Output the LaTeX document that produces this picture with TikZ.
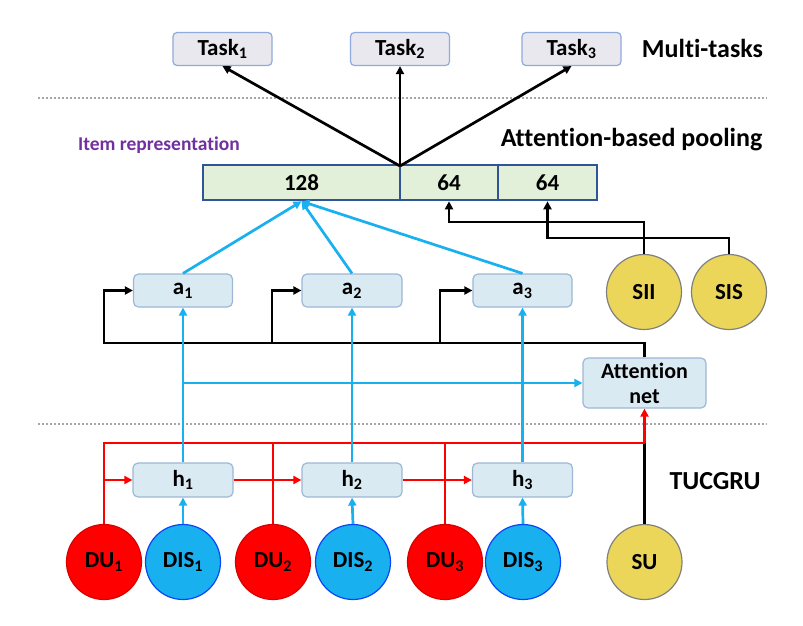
\documentclass[tikz,border=0pt]{standalone}
\usepackage{fontspec}
\setmainfont{Carlito}[Ligatures=NoCommon]
\usetikzlibrary{arrows.meta,calc}
\definecolor{taskfill}{HTML}{E8E8EE}
\definecolor{taskdraw}{HTML}{8FAADC}
\definecolor{barfill}{HTML}{E2F0D9}
\definecolor{bardraw}{HTML}{2F5597}
\definecolor{boxfill}{HTML}{DAEAF3}
\definecolor{boxdraw}{HTML}{9DB7D5}
\definecolor{myblue}{HTML}{18B0EE}
\definecolor{myred}{HTML}{FF0000}
\definecolor{myyellow}{HTML}{EBD65A}
\definecolor{mypurple}{HTML}{7030A0}
\tikzset{
  lbl/.style={font=\bfseries\fontsize{23}{26}\selectfont, inner sep=0pt},
  big/.style={font=\bfseries\fontsize{26}{30}\selectfont, inner sep=0pt},
  taskbox/.style={lbl, draw=taskdraw, fill=taskfill, line width=1.2pt, rounded corners=4pt, minimum width=99pt, minimum height=33pt},
  barcell/.style={lbl, draw=bardraw, fill=barfill, line width=2.6pt, minimum height=35pt},
  stepbox/.style={lbl, draw=boxdraw, fill=boxfill, line width=1.2pt, rounded corners=5pt, minimum width=99pt, minimum height=33pt},
  ball/.style={lbl, circle, minimum size=75pt, line width=1.2pt},
  du/.style={ball, fill=myred, draw=red!85!black},
  dis/.style={ball, fill=myblue, draw=blue!60!myblue},
  side/.style={ball, fill=myyellow, draw=gray},
  tip/.style={-{Triangle[length=8pt,width=8pt]}},
  blk/.style={line width=2.7pt, black},
  blu/.style={line width=2.7pt, myblue},
  rd/.style={line width=2.7pt, myred},
  sep/.style={gray!70, line width=1.2pt, dash pattern=on 2pt off 2pt}
}
\begin{document}
\begin{tikzpicture}[x=1pt,y=-1pt]
\useasboundingbox (0,0) rectangle (803,625);
% separators
\draw[sep] (38,98) -- (767,98);
\draw[sep] (38,424) -- (767,424);
% tasks
\node[taskbox] (t1) at (222.5,49) {Task\textsubscript{1}};
\node[taskbox] (t2) at (400,49) {Task\textsubscript{2}};
\node[taskbox] (t3) at (571.5,49) {Task\textsubscript{3}};
\node[big] (mt) at (702.5,48) {Multi-tasks};
\node[big] (abp) at (631.5,140) {Attention-based pooling};
\node[lbl, font=\bfseries\fontsize{19.5}{23}\selectfont, text=mypurple] (ir) at (159,145) {Item representation};
\node[big] (tuc) at (715,481) {TUCGRU};
% bar
\node[barcell, minimum width=197pt] (b1) at (301.5,182.5) {128};
\node[barcell, minimum width=98pt] (b2) at (449,182.5) {64};
\node[barcell, minimum width=99pt] (b3) at (547.5,182.5) {64};
\coordinate (top) at (400,166);
\draw[blk,tip] (top) -- (t1.south);
\draw[blk,tip] (top) -- (t2.south);
\draw[blk,tip] (top) -- (t3.south);
% a boxes
\node[stepbox] (a1) at (183,290.5) {a\textsubscript{1}};
\node[stepbox, minimum width=100pt] (a2) at (352,290.5) {a\textsubscript{2}};
\node[stepbox] (a3) at (522.5,290.5) {a\textsubscript{3}};
\node[stepbox, minimum width=123pt, minimum height=50pt, align=center, font=\bfseries\fontsize{22}{25}\selectfont] (att) at (644.5,383) {Attention\\net};
% h boxes
\node[stepbox, minimum width=100pt, minimum height=34pt] (h1) at (183,480) {h\textsubscript{1}};
\node[stepbox, minimum width=100pt, minimum height=34pt] (h2) at (352,480) {h\textsubscript{2}};
\node[stepbox, minimum width=100pt, minimum height=34pt] (h3) at (522.5,480) {h\textsubscript{3}};
% circles
\node[du] (du1) at (104,562) {DU\textsubscript{1}};
\node[dis] (dis1) at (183,562) {DIS\textsubscript{1}};
\node[du] (du2) at (273,562) {DU\textsubscript{2}};
\node[dis] (dis2) at (353,562) {DIS\textsubscript{2}};
\node[du] (du3) at (445,562) {DU\textsubscript{3}};
\node[dis] (dis3) at (523,562) {DIS\textsubscript{3}};
\node[side] (su) at (644.5,562) {SU};
\node[side] (sii) at (644,292) {SII};
\node[side] (sis) at (729,292) {SIS};
% side info to bar
\coordinate (j1) at (449,222);
\coordinate (j2) at (547.5,238);
\draw[blk,tip] (sii.north) |- (j1) -- (b2.south);
\draw[blk,tip] (sis.north) |- (j2) -- (b3.south);
% attention feedback
\coordinate (fb1) at (104,343);
\coordinate (fb2) at (272,343);
\coordinate (fb3) at (440,343);
\draw[blk,tip] (att.north) |- (fb1) |- (a1.west);
\draw[blk,tip] (fb2) |- (a2.west);
\draw[blk,tip] (fb3) |- (a3.west);
% red lines
\coordinate (r1) at (104,443);
\coordinate (r0) at (644.5,443);
\draw[blk] (su.north) -- (r0);
\draw[rd] (du1.north) -- (r1) -- (r0);
\draw[rd,tip] (r0) -- (att.south);
\draw[rd] (du2.north) -- (du2.north |- r1);
\draw[rd] (du3.north) -- (du3.north |- r1);
\draw[rd,tip] (du1.north |- h1.west) -- (h1.west);
\draw[rd,tip] (h1.east) -- (h2.west);
\draw[rd,tip] (h2.east) -- (h3.west);
% blue lines
\draw[blu,tip] (dis1.north) -- (h1.south);
\draw[blu,tip] (dis2.north) -- (h2.south);
\draw[blu,tip] (dis3.north) -- (h3.south);
\draw[blu,tip] (h1.north) -- (a1.south);
\draw[blu,tip] (h2.north) -- (a2.south);
\draw[blu,tip] (h3.north) -- (a3.south);
\draw[blu,tip] (a1.south |- att.west) -- (att.west);
\draw[blu,tip] (a1.north) -- (b1.south);
\draw[blu,tip] (a2.north) -- (b1.south);
\draw[blu,tip] (a3.north) -- (b1.south);
\end{tikzpicture}
\end{document}
